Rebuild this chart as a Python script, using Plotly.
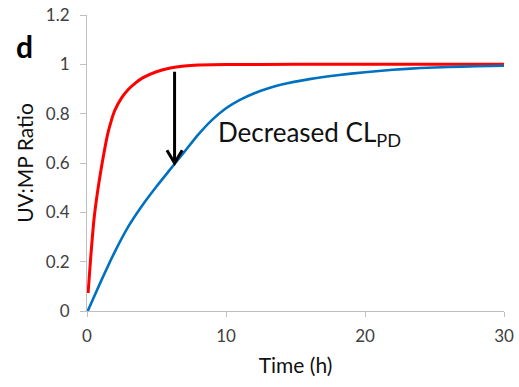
import plotly.graph_objects as go

# Red curve (normal CL_PD)
t_red = [0.08, 0.25, 0.5, 0.75, 1.0, 1.25, 1.5, 1.75, 2.0, 2.5, 3.0, 3.5, 4.0, 5.0, 6.0, 7.0, 8.0, 10.0, 15.0, 20.0, 25.0, 30.0]
v_red = [0.073, 0.205, 0.37, 0.48, 0.57, 0.65, 0.72, 0.772, 0.813, 0.865, 0.9, 0.925, 0.945, 0.97, 0.985, 0.993, 0.997, 0.999, 1.0, 1.0, 1.0, 1.0]

# Blue curve (decreased CL_PD)
t_blue = [0.05, 1.0, 2.0, 3.0, 4.0, 5.0, 6.0, 7.0, 8.0, 9.0, 10.0, 11.0, 12.0, 13.0, 14.0, 16.0, 18.0, 20.0, 22.0, 24.0, 26.0, 28.0, 30.0]
v_blue = [0.0, 0.12, 0.24, 0.345, 0.43, 0.505, 0.575, 0.645, 0.715, 0.775, 0.822, 0.856, 0.882, 0.902, 0.918, 0.94, 0.956, 0.968, 0.978, 0.985, 0.989, 0.992, 0.994]

x_ticks = [0, 10, 20, 30]
y_ticks = [0, 0.2, 0.4, 0.6, 0.8, 1.0, 1.2]
y_tick_labels = ["0", "0.2", "0.4", "0.6", "0.8", "1", "1.2"]

arrow_x = 6.3
arrow_top = 0.97
arrow_tip = 0.6

FONT = "Lato"
TICK_COLOR = "#404040"

fig = go.Figure()
fig.add_trace(go.Scatter(x=t_red, y=v_red, mode="lines", line=dict(color="#ff0000", width=3, shape="spline", smoothing=0.5), showlegend=False))
fig.add_trace(go.Scatter(x=t_blue, y=v_blue, mode="lines", line=dict(color="#0070c0", width=2.6, shape="spline", smoothing=0.5), showlegend=False))

# arrow shaft and open head
fig.add_shape(type="line", xref="x", yref="y", x0=arrow_x, x1=arrow_x, y0=arrow_top, y1=arrow_tip + 0.004,
              line=dict(color="black", width=3))
fig.add_shape(type="path", xref="x", yref="y",
              path=f"M {arrow_x-0.55},{arrow_tip+0.052} L {arrow_x},{arrow_tip} L {arrow_x+0.55},{arrow_tip+0.052}",
              line=dict(color="black", width=3))

fig.add_annotation(x=9.3, y=0.72, xref="x", yref="y", text="Decreased CL<sub>PD</sub>", showarrow=False,
                   xanchor="left", yanchor="middle", font=dict(family=FONT, size=26, color="#111111"))
fig.add_annotation(x=-0.175, y=0.895, xref="paper", yref="paper", text="<b>d</b>", showarrow=False,
                   xanchor="left", yanchor="middle", font=dict(family=FONT, size=30, color="black"))

fig.update_layout(
    width=519, height=387,
    margin=dict(l=87, r=15, t=15, b=76),
    plot_bgcolor="white", paper_bgcolor="white",
    font=dict(family=FONT, color=TICK_COLOR),
)
fig.update_xaxes(range=[0, 30], tickvals=x_ticks, showgrid=False, zeroline=False, showline=True, automargin=False,
                 linecolor="#bfbfbf", linewidth=1, ticks="outside", ticklen=5, tickcolor="#bfbfbf",
                 ticklabelstandoff=5,
                 tickfont=dict(size=17, color=TICK_COLOR),
                 title=dict(text="Time (h)", font=dict(size=21, color="#111111"), standoff=12))
fig.update_yaxes(range=[0, 1.2], tickvals=y_ticks, ticktext=y_tick_labels, showgrid=False, zeroline=False, showline=True, automargin=False,
                 linecolor="#bfbfbf", linewidth=1, ticks="outside", ticklen=6, tickcolor="#bfbfbf",
                 ticklabelstandoff=7,
                 tickfont=dict(size=17, color=TICK_COLOR),
                 title=dict(text="UV:MP Ratio", font=dict(size=21, color="#111111"), standoff=6))

fig.write_html("out.html")
